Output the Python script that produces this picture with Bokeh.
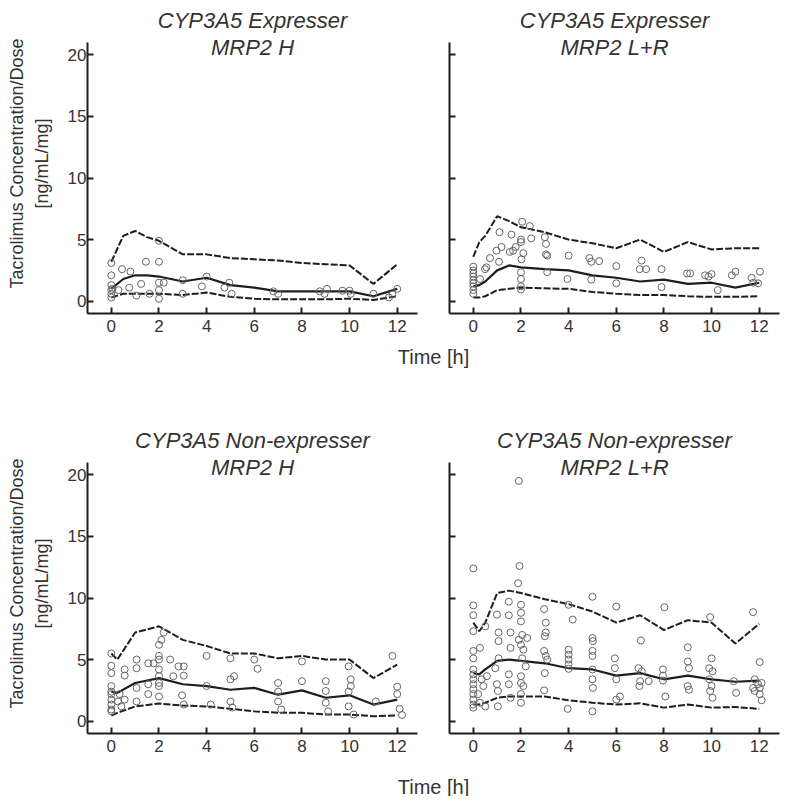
import math
from bokeh.plotting import figure
from bokeh.layouts import column, row
from bokeh.models import Label, FixedTicker, Range1d
from bokeh.embed import file_html
from bokeh.resources import INLINE

FONT = "Liberation Sans"

# ---------------- data ----------------
# Panel A: CYP3A5 Expresser, MRP2 H
a_t = [0, 0.5, 1, 1.5, 2, 3, 4, 5, 6, 7, 8, 9, 10, 11, 12]
a_p95 = [3.2, 5.3, 5.7, 5.2, 4.9, 3.8, 3.8, 3.5, 3.4, 3.3, 3.1, 3.0, 2.9, 1.4, 3.0]
a_med = [1.0, 1.8, 2.1, 2.1, 2.0, 1.6, 1.9, 1.3, 1.1, 0.8, 0.8, 0.8, 0.8, 0.4, 1.0]
a_p5 = [0.3, 0.6, 0.6, 0.6, 0.6, 0.5, 0.7, 0.35, 0.2, 0.15, 0.15, 0.15, 0.2, 0.1, 0.4]
a_obs_t = [0, 0, 0, 0, 0, 0, 0.05, 0.3, 0.45, 0.8, 0.75, 1.05, 1.25, 1.45, 1.6, 2.0, 2.0, 2.0,
           2.2, 2.0, 2.0, 3.0, 3.0, 3.8, 4.0, 4.75, 4.95, 5.05, 6.8, 7.0, 8.75, 9.05, 8.95,
           9.7, 10.0, 10.05, 11.0, 11.65, 11.8, 12.0]
a_obs_c = [3.1, 2.1, 1.3, 0.9, 0.6, 0.3, 1.0, 0.9, 2.6, 2.4, 1.1, 0.45, 1.4, 3.2, 0.6, 3.2, 4.9, 1.5,
           1.5, 0.9, 0.2, 1.7, 0.6, 1.2, 2.0, 1.1, 1.5, 0.6, 0.8, 0.6, 0.8, 1.0, 0.6,
           0.85, 0.85, 0.6, 0.6, 0.3, 0.55, 1.0]

# Panel B: CYP3A5 Expresser, MRP2 L+R
b_t = [0, 0.25, 0.5, 1, 1.5, 2, 3, 4, 5, 6, 7, 8, 9, 10, 11, 12]
b_p95 = [3.6, 4.8, 5.3, 6.9, 6.5, 6.0, 5.6, 5.0, 4.7, 4.3, 5.0, 4.0, 4.8, 4.2, 4.3, 4.3]
b_med = [1.2, 1.3, 1.6, 2.5, 2.9, 2.75, 2.6, 2.5, 2.1, 1.9, 1.6, 1.75, 1.4, 1.5, 1.1, 1.5]
b_p5 = [0.3, 0.3, 0.4, 0.9, 1.0, 1.1, 1.05, 1.0, 0.75, 0.6, 0.5, 0.5, 0.4, 0.35, 0.35, 0.4]
b_obs_t = [0, 0, 0, 0, 0, 0, 0, 0, 0,
           0.28, 0.49, 0.55, 0.7, 0.97, 1.08, 1.18, 1.1, 1.6, 1.53, 1.67, 1.78, 2.0, 2.0, 2.1,
           2.02, 2.0, 2.0, 2.0, 2.0, 2.05, 2.37, 2.43, 3.0, 3.05, 3.05, 3.1, 3.1, 4.0, 3.95,
           4.87, 4.95, 5.28, 4.95, 6.0, 6.0, 7.06, 6.98, 7.25, 7.9, 7.9, 8.97, 9.1, 9.73,
           10.0, 9.87, 10.26, 10.85, 11.0, 11.68, 11.75, 11.95, 12.03]
b_obs_c = [2.8, 2.5, 2.25, 2.0, 1.7, 1.45, 1.2, 0.9, 0.6,
           1.8, 2.6, 2.75, 3.5, 4.1, 3.2, 4.4, 5.6, 5.4, 4.0, 4.1, 4.4, 5.0, 4.8, 3.9,
           3.4, 2.35, 1.8, 1.2, 0.95, 6.45, 6.1, 5.1, 5.2, 4.65, 3.8, 3.7, 2.35, 3.7, 1.8,
           3.5, 3.2, 3.25, 1.75, 2.85, 1.45, 3.3, 2.6, 2.6, 2.6, 1.15, 2.25, 2.25, 2.1,
           2.2, 2.0, 0.9, 2.1, 2.4, 1.9, 1.5, 1.45, 2.4]

# Panel C: CYP3A5 Non-expresser, MRP2 H
c_t = [0, 0.25, 1, 2, 3, 4, 5, 6, 7, 8, 9, 10, 11, 12]
c_p95 = [5.5, 5.0, 7.2, 7.7, 6.6, 6.1, 5.5, 5.5, 5.1, 5.3, 5.0, 5.0, 3.5, 4.6]
c_med = [2.4, 2.3, 3.1, 3.5, 3.0, 2.85, 2.55, 2.7, 2.15, 2.5, 1.9, 2.1, 1.35, 1.75]
c_p5 = [0.46, 0.68, 1.2, 1.43, 1.27, 1.2, 1.0, 0.8, 0.68, 0.68, 0.54, 0.54, 0.4, 0.46]
c_obs_t = [0, 0, 0, 0, 0, 0, 0, 0, 0, 0,
           0.35, 0.42, 0.28, 0.56, 0.56, 0.56, 1.06, 1.06, 1.06, 1.06, 1.55, 1.55, 1.55, 1.77,
           2.0, 2.0, 2.0, 2.0, 2.0, 2.0, 2.0, 2.0, 2.2, 2.1, 2.47, 2.6, 2.82, 3.04, 3.04, 2.97,
           3.04, 4.0, 4.0, 4.17, 5.0, 5.0, 5.15, 5.0, 5.08, 6.0, 6.14, 7.0, 7.0, 7.0, 7.13,
           8.0, 8.0, 9.0, 9.0, 9.0, 9.1, 9.96, 10.05, 10.05, 9.96, 9.96, 10.17, 11.1,
           11.8, 12.0, 12.1, 12.2, 12.0]
c_obs_c = [5.5, 4.5, 3.9, 2.85, 2.4, 2.2, 1.75, 1.35, 0.95, 0.8,
           2.2, 1.2, 1.6, 4.2, 3.7, 1.75, 5.0, 4.3, 1.6, 2.7, 4.7, 3.0, 2.2, 4.7,
           6.2, 5.3, 5.0, 4.2, 3.65, 3.1, 2.85, 2.0, 7.2, 6.6, 5.0, 3.65, 4.45, 4.45, 3.7, 2.1,
           1.35, 5.3, 2.85, 1.35, 5.1, 3.4, 3.65, 1.6, 1.1, 5.0, 4.25, 3.1, 2.4, 1.6, 0.95,
           4.85, 3.25, 3.25, 2.45, 1.5, 0.8, 4.45, 3.4, 2.85, 2.4, 1.2, 0.54, 1.6,
           5.3, 2.8, 1.0, 0.5, 2.2]

# Panel D: CYP3A5 Non-expresser, MRP2 L+R
d_t = [0, 0.25, 0.5, 1, 1.5, 2, 3, 4, 5, 6, 7, 8, 9, 10, 11, 12]
d_p95 = [8.0, 7.3, 8.0, 10.4, 10.6, 10.4, 9.9, 9.5, 8.9, 8.0, 8.6, 7.4, 8.2, 8.0, 6.3, 7.9]
d_med = [3.9, 3.8, 4.2, 4.9, 5.0, 4.9, 4.7, 4.3, 4.2, 3.7, 3.9, 3.4, 3.7, 3.4, 3.2, 3.3]
d_p5 = [1.35, 1.35, 1.5, 1.9, 2.0, 2.0, 2.0, 1.7, 1.5, 1.35, 1.45, 1.1, 1.35, 1.1, 1.15, 1.0]
d_obs_t = [0, 0, 0, 0, 0, 0, 0, 0, 0, 0, 0, 0, 0, 0, 0,
           0.28, 0.35, 0.42, 0.5, 0.5, 0.57, 0.2, 0.28,
           0.99, 1.06, 1.06, 1.06, 0.99, 1.03, 1.03, 0.92,
           1.49, 1.49, 1.56, 1.56, 1.49, 1.49, 1.56,
           1.91, 1.94, 1.88, 2.0, 2.0, 2.0, 2.05, 1.91, 2.0, 2.1, 2.05, 2.0, 2.0, 2.1, 2.0, 2.0,
           2.2, 2.26,
           2.97, 3.04, 3.04, 3.0, 2.97, 3.04, 3.0, 2.97, 3.1,
           4.0, 4.17, 4.0, 4.0, 4.0, 4.0, 4.0, 3.96,
           5.0, 5.0, 5.02, 5.0, 5.0, 5.0, 5.0, 5.02, 5.0,
           6.0, 5.94, 5.94, 6.0, 6.15, 6.0,
           7.03, 6.93, 7.07, 7.0, 6.97, 7.36,
           8.02, 7.96, 7.96, 7.96, 8.06,
           9.0, 9.0, 9.05, 9.0, 9.05,
           9.94, 10.0, 9.9, 10.04, 9.9, 10.0, 9.94, 10.04,
           10.93, 11.03,
           11.74, 12.02, 11.81, 11.95, 12.02, 11.81, 12.02, 12.1, 12.1, 11.74]
d_obs_c = [12.4, 9.4, 8.6, 7.3, 5.7, 5.1, 4.2, 3.8, 3.4, 3.0, 2.6, 2.2, 1.75, 1.35, 1.1,
           5.95, 3.4, 2.85, 1.2, 7.7, 3.65, 2.2, 1.5,
           8.65, 7.2, 6.5, 5.1, 3.0, 2.45, 1.2, 4.3,
           9.7, 8.6, 7.2, 5.95, 3.8, 3.0, 1.9,
           19.5, 12.6, 11.2, 9.45, 8.8, 8.1, 7.0, 6.6, 6.2, 5.8, 5.1, 3.65, 3.1, 2.85, 2.2, 1.5,
           4.45, 6.75,
           9.1, 8.0, 7.2, 6.9, 5.7, 5.3, 3.9, 2.5, 5.0,
           9.45, 8.25, 5.8, 5.4, 5.0, 4.6, 4.25, 1.0,
           10.1, 6.75, 6.5, 5.7, 5.3, 4.2, 3.4, 2.7, 0.8,
           9.3, 5.1, 4.3, 3.4, 2.0, 1.75,
           6.55, 4.3, 4.05, 3.25, 2.85, 3.25,
           9.25, 4.2, 3.7, 3.3, 2.0,
           6.0, 4.85, 4.3, 2.85, 2.55,
           8.45, 5.1, 4.3, 4.05, 3.4, 2.85, 2.45, 1.9,
           3.25, 2.3,
           8.85, 4.8, 3.4, 3.0, 2.7, 2.45, 2.2, 1.7, 3.1, 2.7]

x_ticks = [0, 2, 4, 6, 8, 10, 12]
y_ticks = [0, 5, 10, 15, 20]
titles = [("CYP3A5 Expresser", "MRP2 H"), ("CYP3A5 Expresser", "MRP2 L+R"),
          ("CYP3A5 Non-expresser", "MRP2 H"), ("CYP3A5 Non-expresser", "MRP2 L+R")]
y_label_lines = ["Tacrolimus Concentration/Dose", "[ng/mL/mg]"]
x_label = "Time [h]"

X0, X1, Y0, Y1 = -1, 12.85, -1, 21
PXU = 271 / (Y1 - Y0)          # pixels per y unit
TOP_PAD = 42                   # title space inside the frame above the axis top
YTOP = Y1 + TOP_PAD / PXU
TXT = "#333333"
INK = "#1e1e1e"
YLAB_W = 55
ROW_H = 271 + TOP_PAD + 28


def panel(t, p95, med, p5, ot, oc, title, left):
    p = figure(frame_width=330, frame_height=271 + TOP_PAD,
               x_range=Range1d(X0, X1), y_range=Range1d(Y0, YTOP),
               output_backend="svg", toolbar_location=None,
               min_border_left=(87 - YLAB_W) if left else 22,
               min_border_right=10 if left else 5,
               min_border_top=0, min_border_bottom=28)
    p.outline_line_color = None
    p.grid.visible = False
    for ax in (p.xaxis[0], p.yaxis[0]):
        ax.axis_line_width = 2
        ax.axis_line_color = INK
        ax.major_tick_in = 6
        ax.major_tick_out = 0
        ax.major_tick_line_width = 2
        ax.major_tick_line_color = INK
        ax.minor_tick_line_color = None
        ax.major_label_text_font = FONT
        ax.major_label_text_font_size = "17px"
        ax.major_label_text_color = TXT
    p.xaxis.ticker = FixedTicker(ticks=x_ticks)
    p.xaxis.major_label_standoff = 6
    p.yaxis.ticker = FixedTicker(ticks=y_ticks)
    p.yaxis.major_label_standoff = 1
    p.yaxis.bounds = (Y0, Y1)
    if not left:
        p.yaxis.major_label_overrides = {v: "" for v in y_ticks}

    p.line(t, p95, line_color=INK, line_width=2, line_dash="7 2")
    p.line(t, p5, line_color=INK, line_width=2, line_dash="7 2")
    p.line(t, med, line_color=INK, line_width=2.2)
    p.scatter(ot, oc, marker="circle", size=7, line_color="#666666", line_width=1,
              fill_color=None)

    cx = (X0 + X1) / 2
    for txt, yy in ((title[0], Y1 + 22 / PXU), (title[1], Y1 - 5 / PXU)):
        p.add_layout(Label(x=cx, y=yy, text=txt, text_align="center",
                           text_baseline="alphabetic", text_font=FONT,
                           text_font_size="22px", text_font_style="italic",
                           text_color=TXT))
    return p


def ylab_fig():
    s = figure(width=YLAB_W, height=ROW_H, x_range=Range1d(0, YLAB_W), y_range=Range1d(0, ROW_H),
               output_backend="svg", toolbar_location=None, min_border=0,
               x_axis_type=None, y_axis_type=None)
    s.grid.visible = False
    s.outline_line_color = None
    yc = ROW_H - (TOP_PAD + 271 / 2)
    for txt, xx in zip(y_label_lines, (16, 41)):
        s.add_layout(Label(x=xx, y=yc, text=txt, angle=math.pi / 2, text_align="center",
                           text_baseline="middle", text_font=FONT,
                           text_font_size="18px", text_color=TXT))
    return s


def strip(h, ybase):
    s = figure(width=784, height=h, x_range=Range1d(0, 784), y_range=Range1d(0, h),
               output_backend="svg", toolbar_location=None, min_border=0,
               x_axis_type=None, y_axis_type=None)
    s.grid.visible = False
    s.outline_line_color = None
    s.add_layout(Label(x=433, y=ybase, text=x_label, text_align="center",
                       text_baseline="alphabetic", text_font=FONT,
                       text_font_size="20px", text_color=TXT))
    return s


pa = panel(a_t, a_p95, a_med, a_p5, a_obs_t, a_obs_c, titles[0], True)
pb = panel(b_t, b_p95, b_med, b_p5, b_obs_t, b_obs_c, titles[1], False)
pc = panel(c_t, c_p95, c_med, c_p5, c_obs_t, c_obs_c, titles[2], True)
pd = panel(d_t, d_p95, d_med, d_p5, d_obs_t, d_obs_c, titles[3], False)

layout = column(row(ylab_fig(), pa, pb), strip(79, 64),
                row(ylab_fig(), pc, pd), strip(35, 10))

open("out.html", "w").write(file_html(layout, INLINE))
